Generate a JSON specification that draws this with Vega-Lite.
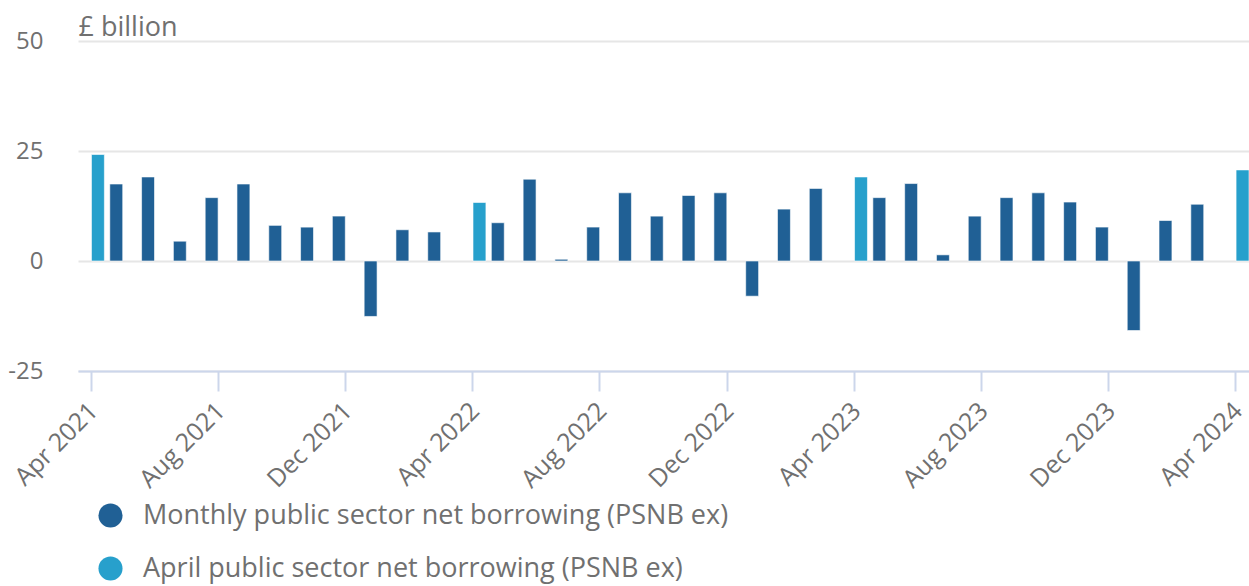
{
  "$schema": "https://vega.github.io/schema/vega-lite/v6.json",
  "autosize": {"type": "none"},
  "padding": {"left": 78, "top": 41, "right": 0, "bottom": 215},
  "width": 1171,
  "height": 330,
  "config": {
    "view": {"stroke": null},
    "font": "Open Sans",
    "axis": {"labelFont": "Open Sans", "titleFont": "Open Sans", "labelColor": "#707070", "titleColor": "#707070"},
    "legend": {"labelFont": "Open Sans"}
  },
  "data": {
    "values": [
      {"month": "Apr 2021", "series": "April public sector net borrowing (PSNB ex)", "value": 24.2},
      {"month": "May 2021", "series": "Monthly public sector net borrowing (PSNB ex)", "value": 17.5},
      {"month": "Jun 2021", "series": "Monthly public sector net borrowing (PSNB ex)", "value": 19.1},
      {"month": "Jul 2021", "series": "Monthly public sector net borrowing (PSNB ex)", "value": 4.5},
      {"month": "Aug 2021", "series": "Monthly public sector net borrowing (PSNB ex)", "value": 14.4},
      {"month": "Sep 2021", "series": "Monthly public sector net borrowing (PSNB ex)", "value": 17.5},
      {"month": "Oct 2021", "series": "Monthly public sector net borrowing (PSNB ex)", "value": 8.1},
      {"month": "Nov 2021", "series": "Monthly public sector net borrowing (PSNB ex)", "value": 7.7},
      {"month": "Dec 2021", "series": "Monthly public sector net borrowing (PSNB ex)", "value": 10.2},
      {"month": "Jan 2022", "series": "Monthly public sector net borrowing (PSNB ex)", "value": -12.6},
      {"month": "Feb 2022", "series": "Monthly public sector net borrowing (PSNB ex)", "value": 7.1},
      {"month": "Mar 2022", "series": "Monthly public sector net borrowing (PSNB ex)", "value": 6.6},
      {"month": "Apr 2022", "series": "April public sector net borrowing (PSNB ex)", "value": 13.3},
      {"month": "May 2022", "series": "Monthly public sector net borrowing (PSNB ex)", "value": 8.7},
      {"month": "Jun 2022", "series": "Monthly public sector net borrowing (PSNB ex)", "value": 18.6},
      {"month": "Jul 2022", "series": "Monthly public sector net borrowing (PSNB ex)", "value": 0.4},
      {"month": "Aug 2022", "series": "Monthly public sector net borrowing (PSNB ex)", "value": 7.7},
      {"month": "Sep 2022", "series": "Monthly public sector net borrowing (PSNB ex)", "value": 15.5},
      {"month": "Oct 2022", "series": "Monthly public sector net borrowing (PSNB ex)", "value": 10.2},
      {"month": "Nov 2022", "series": "Monthly public sector net borrowing (PSNB ex)", "value": 14.9},
      {"month": "Dec 2022", "series": "Monthly public sector net borrowing (PSNB ex)", "value": 15.5},
      {"month": "Jan 2023", "series": "Monthly public sector net borrowing (PSNB ex)", "value": -8.0},
      {"month": "Feb 2023", "series": "Monthly public sector net borrowing (PSNB ex)", "value": 11.8},
      {"month": "Mar 2023", "series": "Monthly public sector net borrowing (PSNB ex)", "value": 16.5},
      {"month": "Apr 2023", "series": "April public sector net borrowing (PSNB ex)", "value": 19.1},
      {"month": "May 2023", "series": "Monthly public sector net borrowing (PSNB ex)", "value": 14.4},
      {"month": "Jun 2023", "series": "Monthly public sector net borrowing (PSNB ex)", "value": 17.6},
      {"month": "Jul 2023", "series": "Monthly public sector net borrowing (PSNB ex)", "value": 1.4},
      {"month": "Aug 2023", "series": "Monthly public sector net borrowing (PSNB ex)", "value": 10.2},
      {"month": "Sep 2023", "series": "Monthly public sector net borrowing (PSNB ex)", "value": 14.4},
      {"month": "Oct 2023", "series": "Monthly public sector net borrowing (PSNB ex)", "value": 15.5},
      {"month": "Nov 2023", "series": "Monthly public sector net borrowing (PSNB ex)", "value": 13.4},
      {"month": "Dec 2023", "series": "Monthly public sector net borrowing (PSNB ex)", "value": 7.7},
      {"month": "Jan 2024", "series": "Monthly public sector net borrowing (PSNB ex)", "value": -15.8},
      {"month": "Feb 2024", "series": "Monthly public sector net borrowing (PSNB ex)", "value": 9.2},
      {"month": "Mar 2024", "series": "Monthly public sector net borrowing (PSNB ex)", "value": 12.9},
      {"month": "Apr 2024", "series": "April public sector net borrowing (PSNB ex)", "value": 20.7}
    ]
  },
  "mark": {"type": "bar", "stroke": "#ffffff", "strokeWidth": 1, "strokeOpacity": 0.6},
  "encoding": {
    "x": {
      "field": "month",
      "type": "ordinal",
      "sort": null,
      "scale": {"paddingInner": 0.17, "paddingOuter": 0},
      "axis": {
        "title": null,
        "values": ["Apr 2021", "Aug 2021", "Dec 2021", "Apr 2022", "Aug 2022", "Dec 2022", "Apr 2023", "Aug 2023", "Dec 2023", "Apr 2024"],
        "labelAngle": -45,
        "labelAlign": "right",
        "labelBaseline": "top",
        "labelFontSize": 25,
        "labelPadding": 7,
        "labelOffset": -6,
        "labelOverlap": false,
        "labelBound": false,
        "domainColor": "#ccd6eb",
        "domainWidth": 2,
        "tickColor": "#ccd6eb",
        "tickWidth": 2,
        "tickSize": 20,
        "grid": false
      }
    },
    "xOffset": {
      "field": "series",
      "type": "nominal",
      "scale": {"domain": ["Monthly public sector net borrowing (PSNB ex)", "April public sector net borrowing (PSNB ex)"], "paddingInner": 0.04}
    },
    "y": {
      "field": "value",
      "type": "quantitative",
      "scale": {"domain": [-25, 50], "nice": false, "zero": false},
      "axis": {
        "values": [-25, 0, 25, 50],
        "labelExpr": "datum.value < 0 ? '-' + abs(datum.value) : datum.label",
        "title": "£ billion",
        "titleAngle": 0,
        "titleAlign": "left",
        "titleBaseline": "alphabetic",
        "titleX": 0,
        "titleY": -6,
        "titleFontSize": 27,
        "titleFontWeight": "normal",
        "labelFontSize": 24,
        "labelPadding": 35,
        "domain": false,
        "ticks": false,
        "gridColor": "#e6e6e6",
        "gridWidth": 2
      }
    },
    "color": {
      "field": "series",
      "type": "nominal",
      "scale": {"domain": ["Monthly public sector net borrowing (PSNB ex)", "April public sector net borrowing (PSNB ex)"], "range": ["#206095", "#27a0cc"]},
      "legend": {
        "title": null,
        "orient": "none",
        "legendX": 19,
        "legendY": 461,
        "direction": "vertical",
        "symbolType": "circle",
        "symbolSize": 580,
        "symbolStrokeWidth": 0,
        "labelFontSize": 27,
        "labelColor": "#707070",
        "labelOffset": 19,
        "labelLimit": 1000,
        "rowPadding": 25,
        "padding": 0
      }
    }
  }
}
